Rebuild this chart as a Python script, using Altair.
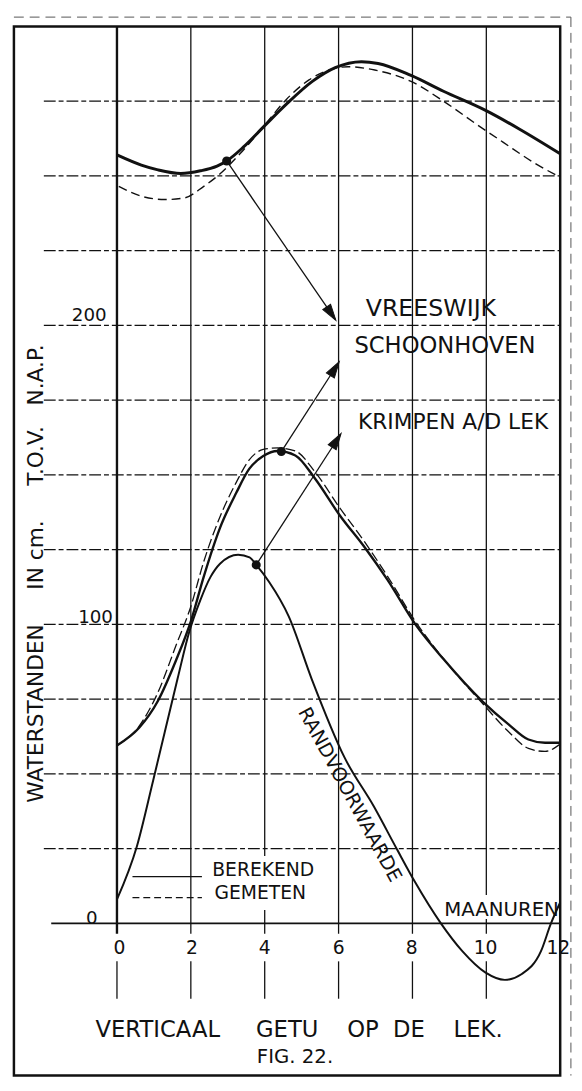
import math
import altair as alt
import pandas as pd

FONT = "DejaVu Sans"
INK = "#111111"
NB = "\u00a0"

# ---------------- data ----------------
# x = maanuren (moon hours), y = waterstand in cm t.o.v. N.A.P.
vr_calc_x = [0.0, 0.66, 1.11, 1.73, 2.26, 2.71, 2.97, 3.42, 4.0, 4.58, 5.29, 5.91, 6.62, 7.07, 7.96, 8.84, 9.98, 10.89, 12.0]
vr_calc_y = [257.0, 253.6, 252.0, 250.8, 251.7, 253.3, 255.0, 259.6, 266.8, 273.9, 281.6, 286.2, 288.2, 287.6, 283.6, 278.3, 271.9, 265.7, 257.4]

vr_meas_x = [0.05, 0.66, 1.29, 1.82, 2.35, 2.8, 3.33, 3.95, 4.58, 5.2, 5.91, 6.26, 6.98, 7.96, 8.84, 9.73, 10.45, 11.33, 11.96]
vr_meas_y = [246.5, 243.2, 242.1, 242.6, 246.5, 250.8, 257.4, 266.2, 275.5, 282.1, 286.0, 286.5, 285.4, 281.6, 275.0, 267.3, 261.3, 254.1, 249.8]

sch_x = [0.0, 0.6, 1.1, 1.6, 2.0, 2.35, 2.79, 3.23, 3.58, 3.96, 4.35, 4.83, 5.36, 6.03, 6.71, 7.33, 8.08, 8.84, 9.9, 10.61, 11.14, 11.59, 12.0]
sch_calc_y = [59.5, 65.4, 74.2, 88.0, 101.0, 116.0, 132.3, 144.0, 152.0, 156.3, 158.0, 156.5, 148.8, 136.5, 125.7, 114.8, 100.0, 88.4, 74.2, 66.5, 61.5, 60.4, 60.4]
sch_meas_y = [59.5, 66.0, 77.0, 93.0, 106.0, 121.0, 136.0, 147.5, 155.0, 158.5, 159.0, 158.0, 151.0, 139.0, 127.5, 116.0, 101.0, 88.5, 73.5, 64.0, 58.5, 57.5, 60.0]

kr_x = [0.0, 0.54, 0.98, 1.64, 1.95, 2.26, 2.53, 2.79, 3.28, 3.59, 3.77, 4.12, 4.65, 5.27, 6.16, 6.96, 7.58, 8.07, 8.77, 9.35, 9.97, 10.5, 10.95, 11.48, 11.75, 12.0]
kr_y = [8.0, 25.8, 47.8, 81.8, 97.2, 108.2, 115.8, 120.3, 123.3, 122.4, 119.9, 114.2, 102.7, 81.8, 55.5, 39.0, 24.8, 13.8, 0.0, -9.3, -16.4, -18.9, -17.0, -9.3, 0.0, 7.0]

# reference dots on the curves and the arrows pointing to the station names
dot_x = [2.97, 4.45, 3.77]
dot_y = [255.0, 157.8, 119.9]
tip_x = [5.91, 6.0, 6.05]
tip_y = [202.0, 187.5, 163.5]
station_names = ["VREESWIJK", "SCHOONHOVEN", "KRIMPEN A/D LEK"]
station_x = [8.5, 8.88, 9.1]
station_y = [205.6, 193.0, 167.8]
station_size = [24, 23, 22]

# grid and ticks
hgrid_vals = [25, 50, 75, 100, 125, 150, 175, 200, 225, 250, 275]
vgrid_vals = [2, 4, 6, 8, 10]
xtick_vals = [0, 2, 4, 6, 8, 10, 12]
xtick_labels = ["0", "2", "4", "6", "8", "10", "12"]
xtick_lx = [0.07, 2.03, 4.0, 6.0, 7.98, 9.98, 11.95]
ytick_labels = ["0", "100", "200"]
ytick_lx = [-0.68, -0.58, -0.75]
ytick_ly = [1.8, 102.3, 203.4]

# legend
legend_names = ["BEREKEND", "GEMETEN"]
legend_y = [15.6, 8.6]
legend_line_x = [0.42, 2.3]
legend_text_x = [2.58, 2.64]
legend_text_y = [17.9, 10.2]

x_unit_label = "MAANUREN"
boundary_label = "RANDVOORWAARDE"
y_title = "WATERSTANDEN" + NB * 5 + "IN cm." + NB * 5 + "T.O.V." + NB * 3 + "N.A.P."
title1 = "VERTICAAL" + NB * 5 + "GETU" + NB * 4 + "OP" + NB * 2 + "DE" + NB * 4 + "LEK."
title2 = "FIG." + NB + "22."

# ---------------- scales ----------------
X_DOM = [-2.79, 12.0]
Y_DOM = [-50.9, 300.0]
W, H = 554, 1064
XS = alt.Scale(domain=X_DOM, nice=False, zero=False)
YS = alt.Scale(domain=Y_DOM, nice=False, zero=False)
KX = W / (X_DOM[1] - X_DOM[0])
KY = H / (Y_DOM[1] - Y_DOM[0])


def X(f="x"):
    return alt.X(f"{f}:Q", scale=XS, axis=None)


def Y(f="y"):
    return alt.Y(f"{f}:Q", scale=YS, axis=None)


layers = []

# faint dashed sheet border of the scan (top and right)
sheet_top = pd.DataFrame({"y": [303.1], "x": [-2.79], "x2": [12.29]})
layers.append(alt.Chart(sheet_top).mark_rule(color="#555555", strokeWidth=1, strokeDash=[10, 6]).encode(
    x=X(), x2="x2:Q", y=Y()))
sheet_right = pd.DataFrame({"x": [12.29], "y": [303.1], "y2": [-50.9]})
layers.append(alt.Chart(sheet_right).mark_rule(color="#555555", strokeWidth=1, strokeDash=[10, 6]).encode(
    x=X(), y=Y(), y2="y2:Q"))

# horizontal dashed grid
hg = pd.DataFrame({"y": hgrid_vals, "x": -1.98, "x2": 12.0})
layers.append(alt.Chart(hg).mark_rule(color=INK, strokeWidth=1.2, strokeDash=[12, 3, 5, 3]).encode(
    x=X(), x2="x2:Q", y=Y()))
# zero line
zl = pd.DataFrame({"y": [0], "x": [-1.78], "x2": [12.0]})
layers.append(alt.Chart(zl).mark_rule(color=INK, strokeWidth=1.8).encode(x=X(), x2="x2:Q", y=Y()))
# vertical grid
vg = pd.DataFrame({"x": vgrid_vals, "y": -3.5, "y2": 300.0})
layers.append(alt.Chart(vg).mark_rule(color=INK, strokeWidth=1.3).encode(x=X(), y=Y(), y2="y2:Q"))
v0 = pd.DataFrame({"x": [0], "y": [-3.5], "y2": [300.0]})
layers.append(alt.Chart(v0).mark_rule(color=INK, strokeWidth=2.4).encode(x=X(), y=Y(), y2="y2:Q"))
# tick strokes below the labels
tk = pd.DataFrame({"x": xtick_vals, "y": -12.7, "y2": -25.2})
layers.append(alt.Chart(tk).mark_rule(color=INK, strokeWidth=1.3).encode(x=X(), y=Y(), y2="y2:Q"))

# white patches behind legend text and MAANUREN (grid interrupted there)
patch = pd.DataFrame({"x": [2.5, 8.8], "x2": [5.85, 11.75], "y": [4.5, 1.5], "y2": [22.5, 9.5]})
layers.append(alt.Chart(patch).mark_rect(color="white").encode(x=X(), x2="x2:Q", y=Y(), y2="y2:Q"))


def curve(xs, ys, width, dash=None):
    df = pd.DataFrame({"x": xs, "y": ys})
    kw = dict(color=INK, strokeWidth=width, interpolate="monotone")
    if dash:
        kw["strokeDash"] = dash
    return alt.Chart(df).mark_line(**kw).encode(x=X(), y=Y(), order=alt.Order("x:Q"))


layers.append(curve(vr_meas_x, vr_meas_y, 1.4, [9, 5]))
layers.append(curve(vr_calc_x, vr_calc_y, 3.0))
layers.append(curve(sch_x, sch_meas_y, 1.3, [10, 4]))
layers.append(curve(sch_x, sch_calc_y, 2.4))
layers.append(curve(kr_x, kr_y, 2.0))

# arrows
ar = pd.DataFrame({"x": dot_x, "y": dot_y, "x2": tip_x, "y2": tip_y})
layers.append(alt.Chart(ar).mark_rule(color=INK, strokeWidth=1.3).encode(x=X(), y=Y(), x2="x2:Q", y2="y2:Q"))
HEAD = 520
half = math.sqrt(HEAD) / 2
angs, hx, hy = [], [], []
for x0, y0, x1, y1 in zip(dot_x, dot_y, tip_x, tip_y):
    th = math.atan2((x1 - x0) * KX, (y1 - y0) * KY)
    angs.append(math.degrees(th) % 360)
    hx.append(x1 - 0.9 * half * math.sin(th) / KX)
    hy.append(y1 - 0.9 * half * math.cos(th) / KY)
heads = pd.DataFrame({"x": hx, "y": hy, "ang": angs})
layers.append(alt.Chart(heads).mark_point(
    shape="M0,-1L0.42,0.45L-0.42,0.45Z", filled=True, size=HEAD, color=INK, opacity=1,
    stroke=INK, strokeWidth=1).encode(
    x=X(), y=Y(), angle=alt.Angle("ang:Q", scale=None)))
dots = pd.DataFrame({"x": dot_x, "y": dot_y})
layers.append(alt.Chart(dots).mark_point(shape="circle", filled=True, size=85, color=INK, opacity=1).encode(
    x=X(), y=Y()))

# legend lines
lg = pd.DataFrame({"x": [legend_line_x[0]], "x2": [legend_line_x[1]], "y": [legend_y[0]]})
layers.append(alt.Chart(lg).mark_rule(color=INK, strokeWidth=1.3).encode(x=X(), x2="x2:Q", y=Y()))
lg2 = pd.DataFrame({"x": [legend_line_x[0]], "x2": [legend_line_x[1]], "y": [legend_y[1]]})
layers.append(alt.Chart(lg2).mark_rule(color=INK, strokeWidth=1.3, strokeDash=[7, 4]).encode(x=X(), x2="x2:Q", y=Y()))


def texts(xs, ys, labels, size, align="center", angle=0, baseline="middle"):
    df = pd.DataFrame({"x": xs, "y": ys, "t": labels})
    return alt.Chart(df).mark_text(font=FONT, fontSize=size, align=align, baseline=baseline,
                                   angle=angle, color=INK).encode(x=X(), y=Y(), text="t:N")


for i in range(3):
    layers.append(texts([station_x[i]], [station_y[i]], [station_names[i]], station_size[i]))
layers.append(texts(legend_text_x, legend_text_y, legend_names, 19, align="left"))
layers.append(texts([8.86], [4.6], [x_unit_label], 20, align="left"))
layers.append(texts([6.3], [43.0], [boundary_label], 19.5, angle=61.5))
layers.append(texts(xtick_lx, [-8.4] * len(xtick_vals), xtick_labels, 19))
layers.append(texts(ytick_lx, ytick_ly, ytick_labels, 18.5))
layers.append(texts([-2.2], [117.0], [y_title], 22, angle=270))
layers.append(texts([4.93], [-35.6], [title1], 23))
layers.append(texts([4.82], [-44.7], [title2], 20))

chart = alt.layer(*layers).properties(
    width=W, height=H,
    padding={"left": 6, "top": 11, "right": 14, "bottom": 8},
    autosize=alt.AutoSizeParams(type="none"),
    background="white",
).configure_view(stroke=INK, strokeWidth=2.5)

chart.save("out.html", embed_options={"renderer": "svg", "actions": False})
